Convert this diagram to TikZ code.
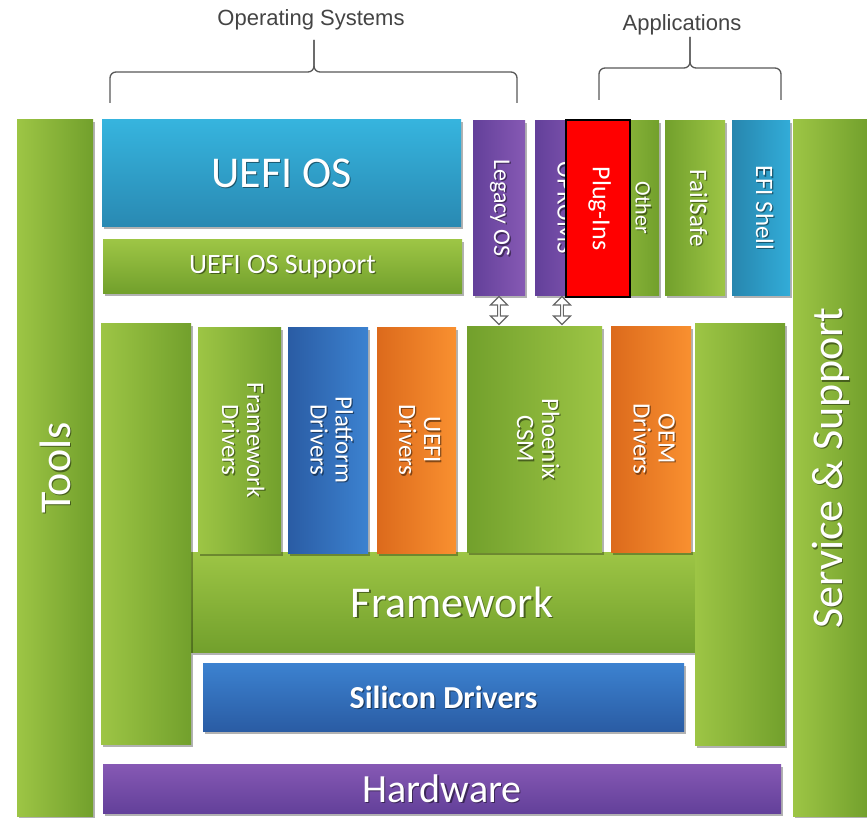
\documentclass[tikz,border=0pt]{standalone}
\usepackage{fontspec}
\setmainfont{Carlito}
\newfontfamily\labfont{Liberation Sans}
\usetikzlibrary{shapes.arrows,shadows,calc}
\definecolor{gL}{HTML}{9DC545}
\definecolor{gD}{HTML}{72A02C}
\definecolor{bL}{HTML}{36B4DE}
\definecolor{bD}{HTML}{2989B2}
\definecolor{pL}{HTML}{8659B4}
\definecolor{pD}{HTML}{63409A}
\definecolor{dL}{HTML}{3C82D0}
\definecolor{dD}{HTML}{2A5CA4}
\definecolor{oL}{HTML}{F99030}
\definecolor{oD}{HTML}{DC6A1C}
\definecolor{tL}{HTML}{32ACD8}
\definecolor{tD}{HTML}{2786AE}
\definecolor{labgray}{HTML}{444444}
\newcommand\fs[1]{\fontsize{#1}{#1}\selectfont}
\newcommand\vt[2]{\rotatebox{-90}{\fs{#1}\begin{tabular}{@{}c@{}}#2\end{tabular}}}
\newcommand\vu[2]{\rotatebox{90}{\fs{#1}#2}}
% name, x1, y1, x2, y2, style, text
\newcommand\bx[7]{%
  \node[#6, minimum width={#4-#2}, minimum height={#5-#3}] (#1) at ({(#2+#4)/2},{(#3+#5)/2}) {};
  \node[txtshadow] (#1-s) at ($(#1.center)+(1.3,1.3)$) {#7};
  \node[txt] (#1-t) at (#1.center) {#7};}
\tikzset{
  box/.style={inner sep=0pt, outer sep=0pt,
    drop shadow={shadow xshift=1.5pt, shadow yshift=-2.5pt, opacity=.3, fill=black}},
  txt/.style={inner sep=0pt, text=white},
  txtshadow/.style={inner sep=0pt, text=black, text opacity=.45},
  gLR/.style={box, left color=gL, right color=gD},
  gRL/.style={box, left color=gD, right color=gL},
  gTB/.style={box, top color=gL, bottom color=gD},
  cyanTB/.style={box, top color=bL, bottom color=bD},
  purpRL/.style={box, left color=pD, right color=pL},
  purpTB/.style={box, top color=pL, bottom color=pD},
  blueRL/.style={box, left color=dD, right color=dL},
  blueTB/.style={box, top color=dL, bottom color=dD},
  orangeRL/.style={box, left color=oD, right color=oL},
  tealRL/.style={box, left color=tD, right color=tL},
  plugbox/.style={inner sep=0pt, outer sep=0pt, fill=red, draw=black, line width=1.6pt, text=white},
  brace/.style={draw=black!65, line width=1.3pt, rounded corners=6pt},
  lab/.style={font=\labfont\fontsize{22}{22}\selectfont, text=labgray, inner sep=0pt},
  dblarrow/.style={shape=double arrow, shape border rotate=90, draw=black!60, fill=white,
    line width=1.1pt, minimum height=28pt, minimum width=17pt, double arrow head extend=3pt,
    double arrow head indent=0pt, inner sep=0pt}
}
\begin{document}
\begin{tikzpicture}[x=1pt,y=-1pt]
\useasboundingbox (0,0) rectangle (867,818);
\fill[white] (0,0) rectangle (867,818);
% labels and braces
\node[lab] (oslab) at (311,20) {Operating Systems};
\node[lab] (applab) at (682,25) {Applications};
\draw[brace] (110,103) -- (110,72) -- (314,72) -- (314,40);
\draw[brace] (517,103) -- (517,72) -- (314,72) -- (314,40);
\draw[brace] (599,100) -- (599,68) -- (690,68) -- (690,37);
\draw[brace] (781,100) -- (781,68) -- (690,68) -- (690,37);
% side columns
\bx{tools}{17}{120}{93}{816}{gLR}{\vu{44}{Tools}}
\bx{service}{793}{120}{869}{816}{gLR}{\vu{44}{Service \& Support}}
% top section
\bx{uefios}{102}{120}{461}{227}{cyanTB}{\fs{44}UEFI OS}
\bx{uefisup}{103}{240}{462}{293}{gTB}{\fs{28}UEFI OS Support}
\bx{legacy}{473}{121}{525}{295}{purpRL}{\vt{24}{Legacy OS}}
\bx{oproms}{535}{121}{590}{295}{purpRL}{\vt{25}{OPROMS}}
\bx{other}{595}{121}{659}{295}{gLR}{\hspace*{26pt}\vt{22}{Other}}
\bx{failsafe}{665}{121}{725}{295}{gRL}{\vt{25}{FailSafe}}
\bx{efishell}{732}{121}{790}{295}{tealRL}{\vt{25}{EFI Shell}}
\node[plugbox, minimum width=64pt, minimum height=177pt] (plugins) at (598,208.5) {\vt{26}{Plug-Ins}};
% framework U shape
\bx{framework}{191}{552}{695}{652}{gTB}{\hspace*{18pt}\fs{44}Framework}
\bx{fwleft}{101}{323}{191}{744}{gLR}{}
\bx{fwright}{695}{323}{785}{745}{gLR}{}
% drivers
\bx{fwdrv}{198}{327}{281}{553}{gLR}{\vt{25}{Framework\\Drivers}}
\bx{platdrv}{288}{327}{368}{553}{blueRL}{\vt{25}{Platform\\Drivers}}
\bx{uefidrv}{377}{327}{456}{553}{orangeRL}{\vt{25}{UEFI\\Drivers}}
\bx{csm}{467}{326}{602}{552}{gRL}{\vt{25}{Phoenix\\CSM}}
\bx{oem}{611}{326}{691}{552}{orangeRL}{\vt{25}{OEM\\Drivers}}
% bottom
\bx{silicon}{203}{663}{684}{731}{blueTB}{\fs{32}\bfseries Silicon Drivers}
\bx{hardware}{103}{764}{781}{813}{purpTB}{\fs{40}Hardware}
% double arrows between OS blocks and CSM
\node[dblarrow] (arrA) at ($(legacy.south)!0.5!(legacy.south |- csm.north)$) {};
\node[dblarrow] (arrB) at ($(562,0 |- legacy.south)!0.5!(562,0 |- csm.north)$) {};
\end{tikzpicture}
\end{document}
